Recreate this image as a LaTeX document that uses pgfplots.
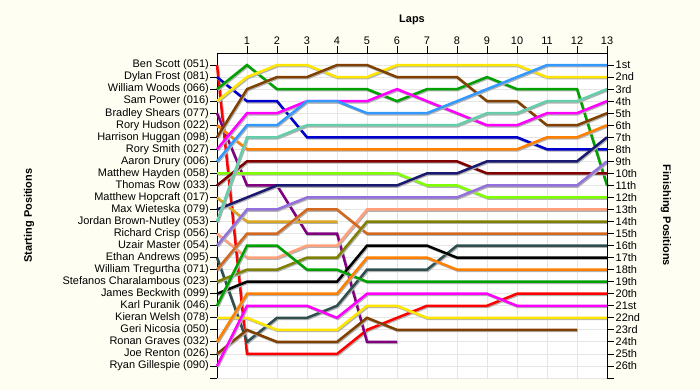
\documentclass[border=0pt]{standalone}
\usepackage{fontspec}
\setmainfont{Liberation Sans}
\usepackage{pgfplots}
\pgfplotsset{compat=1.18}
\definecolor{bgcream}{HTML}{FEFEF3}
\definecolor{cRed}{HTML}{FF0000}
\definecolor{cBlue}{HTML}{0000CC}
\definecolor{cGreen}{HTML}{00A000}
\definecolor{cYellow}{HTML}{FFE600}
\definecolor{cPurple}{HTML}{800080}
\definecolor{cOrange}{HTML}{FF8000}
\definecolor{cBrown}{HTML}{804000}
\definecolor{cMagenta}{HTML}{FF00FF}
\definecolor{cDodger}{HTML}{3399FF}
\definecolor{cLime}{HTML}{80FF00}
\definecolor{cMaroon}{HTML}{800000}
\definecolor{cGold}{HTML}{DAA520}
\definecolor{cNavy}{HTML}{191970}
\definecolor{cAqua}{HTML}{66CDAA}
\definecolor{cSalmon}{HTML}{FFA07A}
\definecolor{cMPurple}{HTML}{9370DB}
\definecolor{cSlate}{HTML}{2F4F4F}
\definecolor{cChoc}{HTML}{D2691E}
\definecolor{cOlive}{HTML}{808000}
\pgfplotsset{drv/.style={draw=#1, line width=2.5bp, mark=none,
  preaction={draw=black!30, line width=2.5bp, transform canvas={shift={(0.9bp,-1.1bp)}}}}}
\begin{document}
\begin{tikzpicture}[x=1bp,y=1bp]
\fill[bgcream] (0,0) rectangle (700,390);
\useasboundingbox (0,0) rectangle (700,390);
\begin{axis}[
  at={(217bp,12bp)}, anchor=south west, scale only axis,
  width=390bp, height=325bp,
  xmin=0, xmax=13, ymin=0, ymax=27, y dir=reverse,
  axis background/.style={fill=white},
  axis x line*=top, axis y line*=left,
  axis line style={black, line width=0.8bp, -},
  xtick={1,...,13},
  xticklabels={1,2,3,4,5,6,7,8,9,10,11,12,13},
  ytick={1,...,27},
  yticklabels={Ben Scott (051),Dylan Frost (081),William Woods (066),Sam Power (016),Bradley Shears (077),Rory Hudson (022),Harrison Huggan (098),Rory Smith (027),Aaron Drury (006),Matthew Hayden (058),Thomas Row (033),Matthew Hopcraft (017),Max Wieteska (079),Jordan Brown-Nutley (053),Richard Crisp (056),Uzair Master (054),Ethan Andrews (095),William Tregurtha (071),Stefanos Charalambous (023),James Beckwith (099),Karl Puranik (046),Kieran Welsh (078),Geri Nicosia (050),Ronan Graves (032),Joe Renton (026),Ryan Gillespie (090),{}},
  tick align=outside, major tick length=7bp,
  tick style={black, line width=0.8bp},
  ticklabel style={font=\fontsize{11}{13}\selectfont, inner sep=1bp},
  grid=major, grid style={black!10, line width=0.8bp},
  clip=false,
]
\addplot[drv=cRed] coordinates {(0,1)(1,25)(2,25)(3,25)(4,25)(5,23)(6,22)(7,21)(8,21)(9,21)(10,20)(11,20)(12,20)(13,20)};
\addplot[drv=cBlue] coordinates {(0,2)(1,4)(2,4)(3,7)(4,7)(5,7)(6,7)(7,7)(8,7)(9,7)(10,7)(11,8)(12,8)(13,8)};
\addplot[drv=cGreen] coordinates {(0,3)(1,1)(2,3)(3,3)(4,3)(5,3)(6,4)(7,3)(8,3)(9,2)(10,3)(11,3)(12,3)(13,11)};
\addplot[drv=cYellow] coordinates {(0,4)(1,2)(2,1)(3,1)(4,2)(5,2)(6,1)(7,1)(8,1)(9,1)(10,1)(11,2)(12,2)(13,2)};
\addplot[drv=cPurple] coordinates {(0,5)(1,11)(2,11)(3,15)(4,15)(5,24)(6,24)};
\addplot[drv=cOrange] coordinates {(0,6)(1,8)(2,8)(3,8)(4,8)(5,8)(6,8)(7,8)(8,8)(9,8)(10,8)(11,7)(12,7)(13,6)};
\addplot[drv=cBrown] coordinates {(0,7)(1,3)(2,2)(3,2)(4,1)(5,1)(6,2)(7,2)(8,2)(9,4)(10,4)(11,6)(12,6)(13,5)};
\addplot[drv=cMagenta] coordinates {(0,8)(1,5)(2,5)(3,4)(4,4)(5,4)(6,3)(7,4)(8,5)(9,6)(10,6)(11,5)(12,5)(13,4)};
\addplot[drv=cDodger] coordinates {(0,9)(1,6)(2,6)(3,4)(4,4)(5,5)(6,5)(7,5)(8,4)(9,3)(10,2)(11,1)(12,1)(13,1)};
\addplot[drv=cLime] coordinates {(0,10)(1,10)(2,10)(3,10)(4,10)(5,10)(6,10)(7,11)(8,11)(9,12)(10,12)(11,12)(12,12)(13,12)};
\addplot[drv=cMaroon] coordinates {(0,11)(1,9)(2,9)(3,9)(4,9)(5,9)(6,9)(7,9)(8,9)(9,10)(10,10)(11,10)(12,10)(13,10)};
\addplot[drv=cGold] coordinates {(0,12)(1,14)(2,14)(3,14)(4,14)};
\addplot[drv=cNavy] coordinates {(0,13)(1,12)(2,11)(3,11)(4,11)(5,11)(6,11)(7,10)(8,10)(9,9)(10,9)(11,9)(12,9)(13,7)};
\addplot[drv=cAqua] coordinates {(0,14)(1,7)(2,7)(3,6)(4,6)(5,6)(6,6)(7,6)(8,6)(9,5)(10,5)(11,4)(12,4)(13,3)};
\addplot[drv=cSalmon] coordinates {(0,15)(1,17)(2,17)(3,16)(4,16)(5,13)(6,13)(7,13)(8,13)(9,13)(10,13)(11,13)(12,13)(13,13)};
\addplot[drv=cMPurple] coordinates {(0,16)(1,13)(2,13)(3,12)(4,12)(5,12)(6,12)(7,12)(8,12)(9,11)(10,11)(11,11)(12,11)(13,9)};
\addplot[drv=cSlate] coordinates {(0,17)(1,24)(2,22)(3,22)(4,21)(5,18)(6,18)(7,18)(8,16)(9,16)(10,16)(11,16)(12,16)(13,16)};
\addplot[drv=cChoc] coordinates {(0,18)(1,15)(2,15)(3,13)(4,13)(5,15)(6,15)(7,15)(8,15)(9,15)(10,15)(11,15)(12,15)(13,15)};
\addplot[drv=cOlive] coordinates {(0,19)(1,18)(2,18)(3,17)(4,17)(5,14)(6,14)(7,14)(8,14)(9,14)(10,14)(11,14)(12,14)(13,14)};
\addplot[drv=black] coordinates {(0,20)(1,19)(2,19)(3,19)(4,19)(5,16)(6,16)(7,16)(8,17)(9,17)(10,17)(11,17)(12,17)(13,17)};
\addplot[drv=cGreen] coordinates {(0,21)(1,16)(2,16)(3,18)(4,18)(5,19)(6,19)(7,19)(8,19)(9,19)(10,19)(11,19)(12,19)(13,19)};
\addplot[drv=cYellow] coordinates {(0,22)(1,22)(2,23)(3,23)(4,23)(5,21)(6,21)(7,22)(8,22)(9,22)(10,22)(11,22)(12,22)(13,22)};
\addplot[drv=cOrange] coordinates {(0,24)(1,20)(2,20)(3,20)(4,20)(5,17)(6,17)(7,17)(8,18)(9,18)(10,18)(11,18)(12,18)(13,18)};
\addplot[drv=cBrown] coordinates {(0,25)(1,23)(2,24)(3,24)(4,24)(5,22)(6,23)(7,23)(8,23)(9,23)(10,23)(11,23)(12,23)};
\addplot[drv=cMagenta] coordinates {(0,26)(1,21)(2,21)(3,21)(4,22)(5,20)(6,20)(7,20)(8,20)(9,20)(10,21)(11,21)(12,21)(13,21)};
\end{axis}
\begin{axis}[
  at={(217bp,12bp)}, anchor=south west, scale only axis,
  width=390bp, height=325bp,
  xmin=0, xmax=13, ymin=0, ymax=27, y dir=reverse,
  axis x line=none, axis y line*=right,
  axis line style={black, line width=0.8bp, -},
  ytick={1,...,27},
  yticklabels={1st,2nd,3rd,4th,5th,6th,7th,8th,9th,10th,11th,12th,13th,14th,15th,16th,17th,18th,19th,20th,21st,22nd,23rd,24th,25th,26th,{}},
  tick align=outside, major tick length=7bp,
  tick style={black, line width=0.8bp},
  ticklabel style={font=\fontsize{11}{13}\selectfont, inner sep=1.5bp},
]
\addplot[draw=none] coordinates {(0,0)(13,27)};
\end{axis}
\node[font=\fontsize{11}{13}\selectfont\bfseries, anchor=base] at (412,368) {Laps};
\node[font=\fontsize{11}{13}\selectfont\bfseries, rotate=90] at (29,174.5) {Starting Positions};
\node[font=\fontsize{11}{13}\selectfont\bfseries, rotate=-90] at (666,174.5) {Finishing Positions};
\end{tikzpicture}
\end{document}
